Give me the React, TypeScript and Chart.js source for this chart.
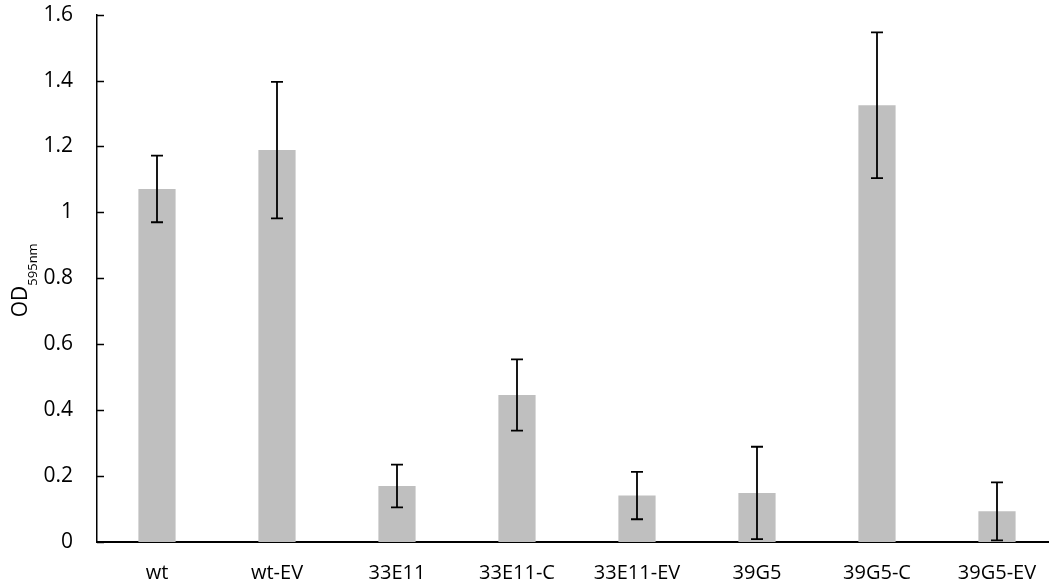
import React, { useEffect, useRef } from "react";
import { Chart, registerables } from "chart.js";

Chart.register(...registerables);

const categories = ["wt", "wt-EV", "33E11", "33E11-C", "33E11-EV", "39G5", "39G5-C", "39G5-EV"];
const means = [1.071, 1.189, 0.170, 0.446, 0.141, 0.149, 1.325, 0.093];
const errors = [0.101, 0.207, 0.065, 0.108, 0.072, 0.140, 0.221, 0.088];
const yTickLabels = ["0", "0.2", "0.4", "0.6", "0.8", "1", "1.2", "1.4", "1.6"];
const yTitleMain = "OD";
const yTitleSub = "595nm";

const FONT = "'Open Sans', 'Noto Sans', sans-serif";
const SHIFT = 22;

const errorBarPlugin = {
  id: "errorBars",
  afterDatasetsDraw(chart: any) {
    const meta = chart.getDatasetMeta(0);
    const yScale = chart.scales.y;
    const ctx = chart.ctx;
    ctx.save();
    ctx.strokeStyle = "#000";
    ctx.lineWidth = 1.8;
    meta.data.forEach((bar: any, i: number) => {
      const x = Math.round(bar.x);
      const top = yScale.getPixelForValue(means[i] + errors[i]);
      const bot = yScale.getPixelForValue(Math.max(0, means[i] - errors[i]));
      const cap = 6;
      ctx.beginPath();
      ctx.moveTo(x, top);
      ctx.lineTo(x, bot);
      ctx.moveTo(x - cap, top);
      ctx.lineTo(x + cap, top);
      ctx.moveTo(x - cap, bot);
      ctx.lineTo(x + cap, bot);
      ctx.stroke();
    });
    ctx.restore();
  },
};

const axisDecorPlugin = {
  id: "axisDecor",
  afterDraw(chart: any) {
    const ctx = chart.ctx;
    const yScale = chart.scales.y;
    const area = chart.chartArea;
    ctx.save();
    ctx.strokeStyle = "#000";
    ctx.lineWidth = 1.5;
    yScale.ticks.forEach((t: any) => {
      const y = Math.round(yScale.getPixelForValue(t.value)) + 0.5;
      ctx.beginPath();
      ctx.moveTo(area.left, y);
      ctx.lineTo(area.left + 7, y);
      ctx.stroke();
    });
    const cy = (area.top + area.bottom) / 2 + 2;
    ctx.fillStyle = "#000";
    ctx.translate(27, cy);
    ctx.rotate(-Math.PI / 2);
    ctx.textBaseline = "alphabetic";
    ctx.textAlign = "left";
    const mainFont = `21px ${FONT}`;
    const subFont = `13px ${FONT}`;
    ctx.font = mainFont;
    const wMain = ctx.measureText(yTitleMain).width;
    ctx.font = subFont;
    const wSub = ctx.measureText(yTitleSub).width;
    const total = wMain + wSub;
    ctx.font = mainFont;
    ctx.fillText(yTitleMain, -total / 2, 0);
    ctx.font = subFont;
    ctx.fillText(yTitleSub, -total / 2 + wMain, 10);
    ctx.restore();
  },
};

export default function App() {
  const ref = useRef<HTMLCanvasElement | null>(null);
  useEffect(() => {
    if (!ref.current) return;
    const chart = new Chart(ref.current, {
      type: "bar",
      data: {
        labels: categories,
        datasets: [
          {
            data: means,
            backgroundColor: "#bfbfbf",
            borderWidth: 0,
            barPercentage: 0.31,
            categoryPercentage: 1,
          },
        ],
      },
      options: {
        animation: false,
        responsive: false,
        maintainAspectRatio: false,
        layout: { padding: { left: 0, right: 3, top: 0, bottom: 0 } },
        plugins: {
          legend: { display: false },
          tooltip: { enabled: false },
        },
        scales: {
          x: {
            offset: true,
            grid: { display: false, drawTicks: false },
            border: { display: true, color: "#000", width: 2 },
            ticks: {
              color: "#000",
              font: { family: FONT, size: 20 },
              padding: 19,
              maxRotation: 0,
              autoSkip: false,
            },
            afterFit(scale: any) {
              scale.height = 44;
            },
          },
          y: {
            min: 0,
            max: 1.6,
            grid: { display: false, drawTicks: false },
            border: { display: true, color: "#000", width: 1.5 },
            ticks: {
              stepSize: 0.2,
              color: "#000",
              font: { family: FONT, size: 21 },
              padding: 24,
              callback: (_v: any, i: number) => yTickLabels[i],
            },
            afterFit(scale: any) {
              scale.width = 97;
            },
          },
        },
      },
      plugins: [errorBarPlugin, axisDecorPlugin],
    });
    return () => chart.destroy();
  }, []);
  return (
    <div
      style={{
        position: "absolute",
        left: 0,
        top: 0,
        width: 1049,
        height: 586,
        overflow: "hidden",
        background: "#fff",
      }}
    >
      <canvas
        ref={ref}
        width={1060}
        height={586 + SHIFT}
        style={{ display: "block", position: "relative", top: -SHIFT }}
      />
    </div>
  );
}
